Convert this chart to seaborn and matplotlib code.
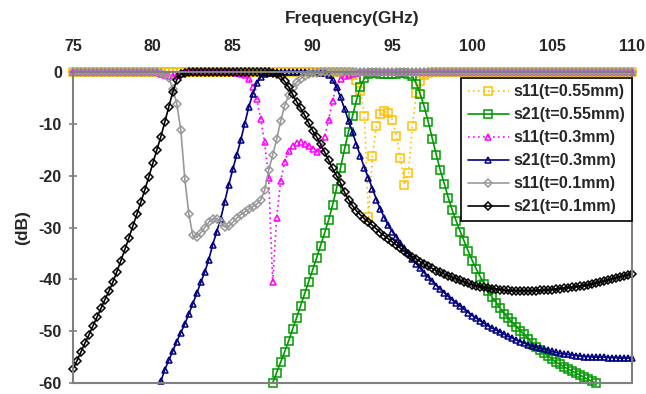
import numpy as np
import pandas as pd
import seaborn as sns
import matplotlib
matplotlib.use("Agg")
import matplotlib.pyplot as plt

nan = np.nan

# frequency grid (GHz), 0.25 GHz steps from 75 to 110
freq = np.arange(75, 110.001, 0.25)

# s11, t=0.55mm
s11_055 = [0.0] * 70 + [
    -0.5, -1.5, -3.6, -8.5, -28.0, -16.2, -10.4, -8.1, -7.6, -7.9,
    -9.3, -12.3, -16.6, -21.8, -19.5, -10.5, -4.1, -1.8, -0.6, -0.2,
] + [0.0] * 51

# s21, t=0.55mm
s21_055 = [nan] * 50 + [
    -60.0, -58.0, -56.0, -54.0, -51.9, -49.6, -47.4, -45.1, -42.8, -40.5,
    -38.2, -35.9, -33.5, -31.1, -28.6, -25.7, -22.5, -18.5, -14.9, -11.5,
    -8.5, -5.4, -2.8, -1.2, -0.4, -0.2, -0.2, -0.3, -0.4, -0.4,
    -0.4, -0.3, -0.2, -0.2, -0.3, -0.8, -2.3, -4.3, -6.8, -9.7,
    -12.9, -16.0, -19.0, -21.6, -24.3, -26.7, -28.8, -30.8, -32.7, -34.6,
    -36.4, -38.0, -39.5, -40.9, -42.3, -43.5, -44.5, -45.6, -46.6, -47.5,
    -48.3, -49.1, -49.9, -50.6, -51.5, -52.3, -53.0, -53.6, -54.2, -54.8,
    -55.4, -56.0, -56.4, -56.9, -57.3, -57.7, -58.1, -58.5, -58.9, -59.3,
    -59.7, -60.0,
] + [nan] * 9

# s11, t=0.3mm
s11_03 = [0.0] * 22 + [-0.3, -0.6, -0.8, -0.8, -0.6, -0.3] + [0.0] * 13 + [
    -0.1, -0.3, -0.6, -1.4, -2.8, -5.2, -9.0, -13.6, -20.5, -40.5,
    -28.2, -21.0, -17.3, -15.3, -14.2, -13.7, -13.6, -13.8, -14.2, -14.8,
    -15.4, -14.6, -12.6, -9.3, -5.5, -2.8, -1.4, -0.8, -0.6, -0.3,
    -0.1,
] + [0.0] * 69

# s21, t=0.3mm
s21_03 = [nan] * 22 + [
    -59.7, -57.4, -55.6, -53.8, -52.0, -50.3, -48.6, -46.7, -44.7, -42.7,
    -40.6, -38.6, -36.2, -33.3, -30.8, -28.3, -25.0, -21.8, -18.8, -16.0,
    -13.2, -10.0, -6.8, -4.3, -2.2, -1.0, -0.4, -0.1,
] + [0.0] * 12 + [
    -0.1, -0.2, -0.6, -1.6, -2.9, -4.9, -7.1, -9.4, -11.6, -14.0,
    -16.3, -18.5, -20.5, -22.5, -24.6, -26.5, -28.1, -29.6, -30.8, -31.9,
    -33.0, -34.0, -35.0, -36.0, -37.0, -37.9, -38.8, -39.6, -40.4, -41.2,
    -41.9, -42.6, -43.3, -44.0, -44.6, -45.2, -45.8, -46.4, -47.0, -47.5,
    -48.0, -48.5, -49.0, -49.4, -49.8, -50.2, -50.6, -51.0, -51.3, -51.7,
    -52.0, -52.3, -52.6, -52.9, -53.1, -53.3, -53.5, -53.7, -53.9, -54.1,
    -54.3, -54.4, -54.5, -54.6, -54.7, -54.8, -54.9, -54.9, -55.0, -55.0,
    -55.0, -55.0, -55.1, -55.1, -55.1, -55.2, -55.2, -55.2, -55.2,
]

# s11, t=0.1mm
s11_01 = [0.0] * 22 + [
    -0.2, -0.5, -1.2, -3.2, -6.2, -11.2, -20.6, -27.3, -31.5, -31.9,
    -31.0, -30.0, -29.0, -28.3, -28.3, -29.0, -29.9, -29.8, -29.0, -28.2,
    -27.5, -27.0, -26.5, -26.0, -25.5, -24.7, -22.8, -19.0, -16.0, -13.0,
    -9.5, -6.5, -4.5, -3.0, -2.0, -1.3, -0.7, -0.4, -0.2, -0.1,
] + [0.0] * 79

# s21, t=0.1mm
s21_01 = [
    -57.3, -55.7, -54.0, -52.3, -50.7, -49.0, -47.3, -45.6, -43.9, -42.3,
    -40.5, -38.5, -36.4, -34.2, -32.0, -29.7, -27.4, -25.1, -22.7, -20.2,
    -17.6, -15.0, -12.5, -9.6, -6.7, -3.8, -1.5, -0.4, -0.1,
] + [0.0] * 21 + [
    -0.1, -0.3, -0.8, -1.8, -2.9, -4.3, -5.7, -7.0, -8.3, -9.8,
    -11.3, -12.5, -13.9, -15.4, -17.0, -18.6, -20.0, -21.4, -23.2, -24.6,
    -25.8, -26.8, -27.6, -28.3, -28.9, -29.6, -30.3, -31.0, -31.6, -32.2,
    -32.8, -33.4, -34.0, -34.6, -35.1, -35.6, -36.1, -36.6, -37.1, -37.5,
    -37.9, -38.3, -38.6, -39.0, -39.3, -39.6, -39.9, -40.2, -40.5, -40.8,
    -41.0, -41.2, -41.4, -41.5, -41.7, -41.8, -41.9, -42.0, -42.1, -42.1,
    -42.2, -42.2, -42.2, -42.2, -42.2, -42.2, -42.2, -42.1, -42.1, -42.0,
    -42.0, -41.9, -41.8, -41.7, -41.6, -41.5, -41.4, -41.3, -41.2, -41.1,
    -40.9, -40.7, -40.5, -40.3, -40.1, -39.9, -39.7, -39.5, -39.3, -39.1,
    -38.9,
]

labels = ["s11(t=0.55mm)", "s21(t=0.55mm)", "s11(t=0.3mm)",
          "s21(t=0.3mm)", "s11(t=0.1mm)", "s21(t=0.1mm)"]
series = [s11_055, s21_055, s11_03, s21_03, s11_01, s21_01]

# style per curve
colors = ["#FFC000", "#009900", "#FF00FF", "#000080", "#999999", "#000000"]
lstyles = [(0, (1, 2)), "-", (0, (1, 2)), "-", "-", "-"]
markers = ["s", "s", "^", "^", "D", "D"]
msizes = [5.5, 5.5, 5, 5, 4, 4]

sns.set_theme(style="white")
plt.rcParams["font.family"] = ["Liberation Sans", "DejaVu Sans"]
plt.rcParams["font.weight"] = "bold"
plt.rcParams["axes.unicode_minus"] = False

fig = plt.figure(figsize=(6.46, 3.94), dpi=100)
ax = fig.add_axes([73 / 646, 1 - 383 / 394, 559 / 646, 311 / 394])

for vals, lab, c, ls, m, ms in zip(series, labels, colors, lstyles, markers, msizes):
    assert len(vals) == len(freq)
    df = pd.DataFrame({"freq": freq, "dB": vals})
    sns.lineplot(data=df, x="freq", y="dB", ax=ax, color=c, linestyle=ls,
                 linewidth=1.2, marker=m, markersize=ms, markerfacecolor="none",
                 markeredgecolor=c, markeredgewidth=1.1, label=lab,
                 errorbar=None, clip_on=False)

ax.set_xlim(75, 110)
ax.set_ylim(-60, 0)
ax.set_xticks(np.arange(75, 111, 5))
ax.set_yticks(np.arange(-60, 1, 10))

ax.xaxis.set_label_position("top")
ax.xaxis.tick_top()
ax.tick_params(axis="x", length=0, pad=13, labelsize=11.5)
ax.tick_params(axis="y", direction="inout", length=6, width=1.2,
               color="#808080", pad=5, labelsize=11.5, left=True)
for lab in ax.get_xticklabels() + ax.get_yticklabels():
    lab.set_fontweight("bold")

ax.set_xlabel("Frequency(GHz)", fontsize=12.5, fontweight="bold")
ax.set_ylabel("(dB)", fontsize=12.5, fontweight="bold")
ax.xaxis.set_label_coords(0.5, 1.157)
ax.yaxis.set_label_coords(-0.077, 0.5)

for sp in ax.spines.values():
    sp.set_color("#808080")
    sp.set_linewidth(1.5)

leg = ax.legend(loc="upper right", bbox_to_anchor=(1.0, 0.981),
                borderaxespad=0, fontsize=11.5, handlelength=2.6,
                handletextpad=0.3, labelspacing=0.5, borderpad=0.4,
                numpoints=1, frameon=True, fancybox=False, framealpha=1)
leg.get_frame().set_edgecolor("black")
leg.get_frame().set_linewidth(1.2)
for t in leg.get_texts():
    t.set_fontweight("bold")

fig.savefig("out.png", dpi=100)
